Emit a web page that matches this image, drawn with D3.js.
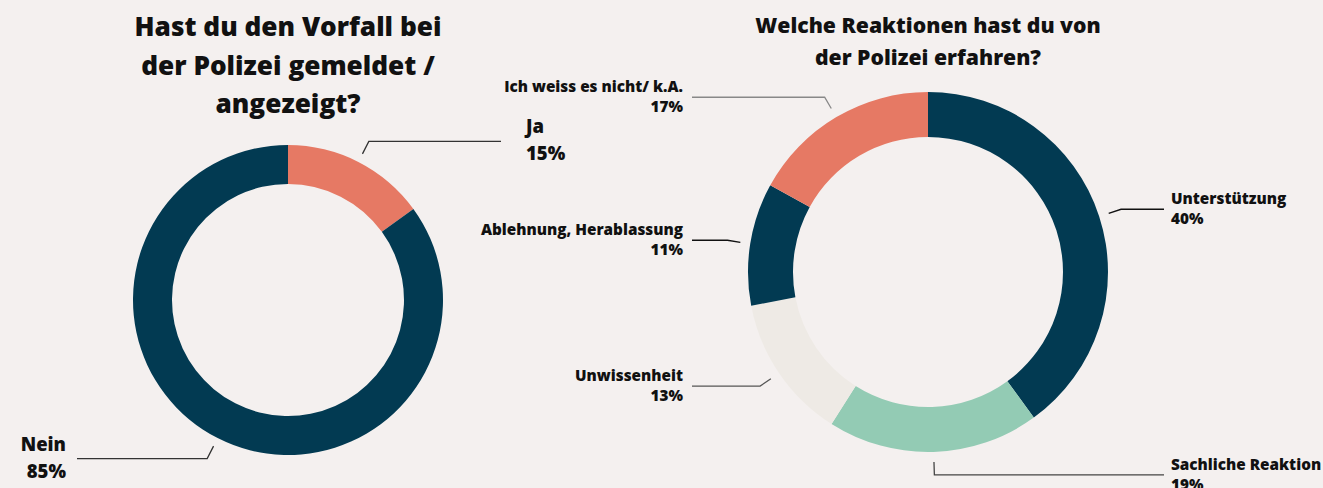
<!DOCTYPE html>
<html>
<head>
<meta charset="utf-8">
<script src="https://cdn.jsdelivr.net/npm/d3@7"></script>
<style>
  html, body { margin: 0; padding: 0; background: #f4f0ef; }
  svg { display: block; }
  text { font-family: "Open Sans", "Noto Sans", sans-serif; font-weight: 800; fill: #111; }
</style>
</head>
<body>
<svg id="chart" width="1323" height="488"></svg>
<script>
// ---- Data ----
const titleLeft = ["Hast du den Vorfall bei", "der Polizei gemeldet /", "angezeigt?"];
const categoriesLeft = ["Ja", "Nein"];
const valuesLeft = [15, 85];
const colorsLeft = ["#e67964", "#023a52"];

const titleRight = ["Welche Reaktionen hast du von", "der Polizei erfahren?"];
const categoriesRight = ["Unterstützung", "Sachliche Reaktion", "Unwissenheit", "Ablehnung, Herablassung", "Ich weiss es nicht/ k.A."];
const valuesRight = [40, 19, 13, 11, 17];
const colorsRight = ["#023a52", "#93cbb4", "#eeeae5", "#023a52", "#e67964"];

const svg = d3.select("#chart");

function donut(cfg) {
  const g = svg.append("g").attr("transform", `translate(${cfg.cx},${cfg.cy})`);
  const data = cfg.categories.map((c, i) => ({ name: c, value: cfg.values[i], color: cfg.colors[i] }));
  const pie = d3.pie().value(d => d.value).sort(null);
  const arcs = pie(data);
  const arc = d3.arc().innerRadius(cfg.inner).outerRadius(cfg.outer);
  g.selectAll("path.slice").data(arcs).join("path")
    .attr("class", "slice")
    .attr("d", arc)
    .attr("fill", d => d.data.color);

  const pt = (a, r) => [Math.sin(a) * r, -Math.cos(a) * r];
  arcs.forEach((d, i) => {
    const mid = (d.startAngle + d.endAngle) / 2;
    const p1 = pt(mid, cfg.outer + cfg.off1);
    const p2 = pt(mid, cfg.outer + cfg.off2);
    const right = Math.sin(mid) > 0.02 || (Math.abs(Math.sin(mid)) <= 0.02 && cfg.bottomRight);
    const xEnd = right ? cfg.lineRight : -cfg.lineLeft;
    g.append("path")
      .attr("d", d3.line()([p1, p2, [xEnd, p2[1]]]))
      .attr("fill", "none")
      .attr("stroke", cfg.lineColors[i])
      .attr("stroke-width", 1.3);
    const tx = right ? cfg.labelRight : -cfg.labelLeft;
    const anchor = right ? "start" : "end";
    g.append("text")
      .attr("x", tx).attr("y", p2[1] + cfg.dy1)
      .attr("text-anchor", anchor)
      .attr("font-size", cfg.labelSize)
      .text(d.data.name);
    g.append("text")
      .attr("x", tx).attr("y", p2[1] + cfg.dy2)
      .attr("text-anchor", anchor)
      .attr("font-size", cfg.labelSize)
      .text(d3.format(".0f")(d.data.value) + "%");
  });

  cfg.title.forEach((t, i) => {
    svg.append("text")
      .attr("x", cfg.cx).attr("y", cfg.titleY + i * cfg.titleLH)
      .attr("text-anchor", "middle")
      .attr("font-size", cfg.titleSize)
      .text(t);
  });
}

donut({
  cx: 288, cy: 300, outer: 155, inner: 116,
  categories: categoriesLeft, values: valuesLeft, colors: colorsLeft,
  lineColors: ["#333", "#333"],
  off1: 9, off2: 23,
  lineRight: 213, lineLeft: 211,
  labelRight: 238, labelLeft: 222,
  dy1: -8, dy2: 19, labelSize: 18.5,
  title: titleLeft, titleY: 36, titleLH: 38.5, titleSize: 26.2
});

donut({
  cx: 928, cy: 272, outer: 180, inner: 135,
  categories: categoriesRight, values: valuesRight, colors: colorsRight,
  lineColors: ["#111", "#444", "#555", "#111", "#888"],
  off1: 10, off2: 23,
  lineRight: 236, lineLeft: 236,
  labelRight: 243, labelLeft: 245,
  dy1: -5, dy2: 15, labelSize: 15.3, bottomRight: true,
  title: titleRight, titleY: 33, titleLH: 32, titleSize: 21.2
});
</script>
</body>
</html>
